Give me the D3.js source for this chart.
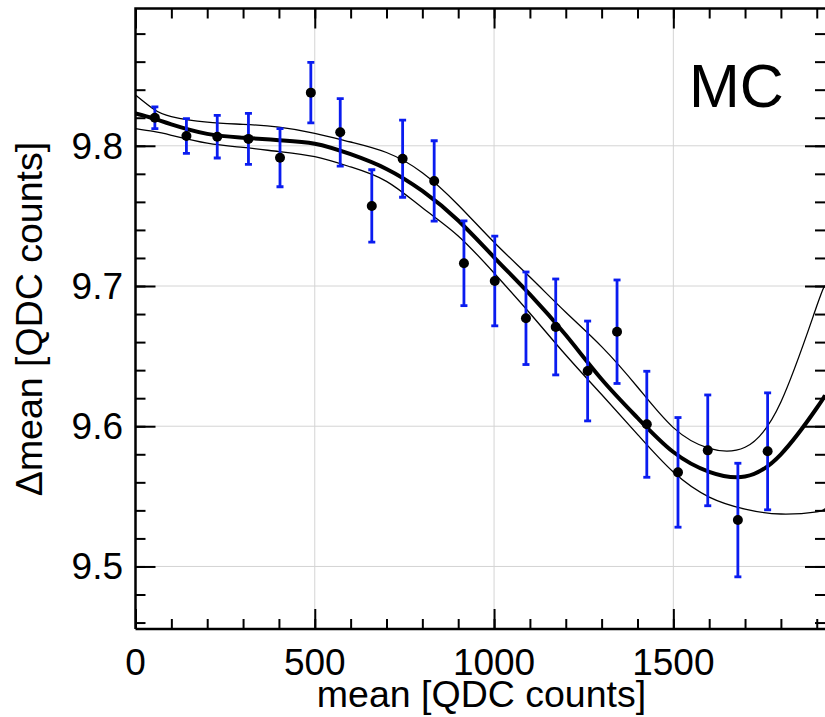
<!DOCTYPE html>
<html>
<head>
<style>
body { margin: 0; background: #fff; }
svg text { font-family: 'Liberation Sans', Arial, Helvetica, sans-serif; }
</style>
</head>
<body>
<svg id='chart'></svg>
<script src="https://cdn.jsdelivr.net/npm/d3@7"></script>
<script>
// measured points (bin centre, delta mean, error)
var ptX = [54, 142, 228, 315, 403, 489, 571, 659, 745, 833, 916, 1002, 1089, 1172, 1261, 1343, 1426, 1513, 1596, 1680, 1763];
var ptY = [9.8200, 9.8070, 9.8065, 9.8049, 9.7915, 9.8379, 9.8096, 9.7571, 9.7908, 9.7749, 9.7162, 9.7036, 9.6770, 9.6708, 9.6394, 9.6674, 9.6014, 9.5671, 9.5828, 9.5331, 9.5821];
var ptErr = [0.0077, 0.0124, 0.0152, 0.0182, 0.0207, 0.0216, 0.0241, 0.0258, 0.0275, 0.0287, 0.0302, 0.0320, 0.0330, 0.0342, 0.0356, 0.0369, 0.0378, 0.0391, 0.0395, 0.0405, 0.0417];

// fit curve and its band
var fitX     = [0, 50, 100, 200, 300, 400, 500, 600, 700, 800, 900, 1000, 1100, 1200, 1300, 1400, 1500, 1600, 1700, 1800, 1900, 1923];
var fitMid   = [9.8230, 9.8195, 9.8153, 9.8085, 9.8058, 9.8040, 9.8015, 9.7940, 9.7835, 9.7678, 9.7467, 9.7205, 9.6940, 9.6650, 9.6335, 9.6060, 9.5816, 9.5675, 9.5641, 9.5800, 9.6130, 9.6223];
var fitUpper = [9.8362, 9.8262, 9.8208, 9.8168, 9.8153, 9.8133, 9.8089, 9.8027, 9.7952, 9.7808, 9.7578, 9.7312, 9.7064, 9.6813, 9.6568, 9.6280, 9.5990, 9.5842, 9.5850, 9.6173, 9.6857, 9.6993];
var fitLower = [9.8122, 9.8102, 9.8075, 9.8019, 9.7988, 9.7959, 9.7922, 9.7849, 9.7746, 9.7558, 9.7357, 9.7093, 9.6806, 9.6508, 9.6226, 9.5942, 9.5673, 9.5495, 9.5409, 9.5374, 9.5390, 9.5413];

var xTickLabels = [0, 500, 1000, 1500];
var yTickLabels = [9.5, 9.6, 9.7, 9.8];

var W = 825, H = 717;
var pLeft = 135.5, pRight = 825, pTop = 8.5, pBottom = 629;

var svg = d3.select('#chart').attr('width', W).attr('height', H);

var x = d3.scaleLinear().domain([0, 1923]).range([pLeft, pRight]);
var y = d3.scaleLinear().domain([9.4554, 9.8979]).range([pBottom, pTop]);

svg.append('clipPath').attr('id', 'clip')
	.append('rect')
	.attr('x', pLeft).attr('y', pTop)
	.attr('width', pRight - pLeft).attr('height', pBottom - pTop);

// grid
var grid = svg.append('g').style('stroke', '#d4d4d4').style('stroke-width', 1);
grid.selectAll('.gx').data(xTickLabels.slice(1)).enter().append('line')
	.attr('x1', function(d){return x(d);}).attr('x2', function(d){return x(d);})
	.attr('y1', pTop).attr('y2', pBottom);
grid.selectAll('.gy').data(yTickLabels).enter().append('line')
	.attr('y1', function(d){return y(d);}).attr('y2', function(d){return y(d);})
	.attr('x1', pLeft).attr('x2', pRight);

// ticks on all four sides, pointing inward
var xMinor = d3.range(0, 1923, 100);
var yMinor = d3.range(9.46, 9.89, 0.02);

function tickStyle(g) {
	g.select('.domain').remove();
	g.selectAll('line').style('stroke', '#000').style('stroke-width', 2);
	g.selectAll('text').remove();
}

svg.append('g').attr('transform', 'translate(0,' + pBottom + ')')
	.call(d3.axisBottom(x).tickValues(xMinor).tickSize(-10)).call(tickStyle);
svg.append('g').attr('transform', 'translate(0,' + pBottom + ')')
	.call(d3.axisBottom(x).tickValues(xTickLabels).tickSize(-20)).call(tickStyle);
svg.append('g').attr('transform', 'translate(0,' + pTop + ')')
	.call(d3.axisTop(x).tickValues(xMinor).tickSize(-10)).call(tickStyle);
svg.append('g').attr('transform', 'translate(0,' + pTop + ')')
	.call(d3.axisTop(x).tickValues(xTickLabels).tickSize(-20)).call(tickStyle);
svg.append('g').attr('transform', 'translate(' + pLeft + ',0)')
	.call(d3.axisLeft(y).tickValues(yMinor).tickSize(-10)).call(tickStyle);
svg.append('g').attr('transform', 'translate(' + pLeft + ',0)')
	.call(d3.axisLeft(y).tickValues(yTickLabels).tickSize(-20)).call(tickStyle);
svg.append('g').attr('transform', 'translate(' + pRight + ',0)')
	.call(d3.axisRight(y).tickValues(yMinor).tickSize(-10)).call(tickStyle);
svg.append('g').attr('transform', 'translate(' + pRight + ',0)')
	.call(d3.axisRight(y).tickValues(yTickLabels).tickSize(-20)).call(tickStyle);

// frame
svg.append('path')
	.attr('d', 'M ' + pLeft + ' ' + pBottom + ' L ' + pLeft + ' ' + pTop + ' L ' + pRight + ' ' + pTop)
	.style('fill', 'none').style('stroke', '#000').style('stroke-width', 2.5);
svg.append('line')
	.attr('x1', pLeft).attr('x2', pRight).attr('y1', pBottom).attr('y2', pBottom)
	.style('stroke', '#000').style('stroke-width', 2.5);

// tick labels
svg.selectAll('.xl').data(xTickLabels).enter().append('text')
	.attr('x', function(d){return x(d);})
	.attr('y', 675)
	.attr('text-anchor', 'middle')
	.attr('font-size', 37)
	.text(function(d){return d;});
svg.selectAll('.yl').data(yTickLabels).enter().append('text')
	.attr('x', 123)
	.attr('y', function(d){return y(d) + 13;})
	.attr('text-anchor', 'end')
	.attr('font-size', 37)
	.text(function(d){return d.toFixed(1);});

// axis titles
svg.append('text')
	.attr('x', 481.5).attr('y', 706.5)
	.attr('text-anchor', 'middle')
	.attr('font-size', 37.5)
	.text('mean [QDC counts]');
svg.append('text')
	.attr('transform', 'translate(42,319) rotate(-90)')
	.attr('text-anchor', 'middle')
	.attr('font-size', 37.5)
	.text('\u0394mean [QDC counts]');

svg.append('text')
	.attr('x', 689).attr('y', 106.5)
	.attr('font-size', 61)
	.text('MC');

// fit lines
var plot = svg.append('g').attr('clip-path', 'url(#clip)');
function fitLine(vals) {
	return d3.line()
		.x(function(d, i){return x(fitX[i]);})
		.y(function(d){return y(d);})
		.curve(d3.curveNatural)(vals);
}
plot.append('path').attr('d', fitLine(fitUpper))
	.style('fill', 'none').style('stroke', '#000').style('stroke-width', 1.3);
plot.append('path').attr('d', fitLine(fitLower))
	.style('fill', 'none').style('stroke', '#000').style('stroke-width', 1.3);
plot.append('path').attr('d', fitLine(fitMid))
	.style('fill', 'none').style('stroke', '#000').style('stroke-width', 4);

// error bars
var pts = ptX.map(function(d, i){return {x: d, y: ptY[i], e: ptErr[i]};});
var eb = plot.append('g').style('stroke', '#0a1cf0').style('stroke-width', 2.8);
eb.selectAll('.v').data(pts).enter().append('line')
	.attr('x1', function(d){return x(d.x);}).attr('x2', function(d){return x(d.x);})
	.attr('y1', function(d){return y(d.y + d.e);}).attr('y2', function(d){return y(d.y - d.e);});
eb.selectAll('.ct').data(pts).enter().append('line')
	.attr('x1', function(d){return x(d.x) - 3.5;}).attr('x2', function(d){return x(d.x) + 3.5;})
	.attr('y1', function(d){return y(d.y + d.e);}).attr('y2', function(d){return y(d.y + d.e);});
eb.selectAll('.cb').data(pts).enter().append('line')
	.attr('x1', function(d){return x(d.x) - 3.5;}).attr('x2', function(d){return x(d.x) + 3.5;})
	.attr('y1', function(d){return y(d.y - d.e);}).attr('y2', function(d){return y(d.y - d.e);});

plot.selectAll('.pt').data(pts).enter().append('circle')
	.attr('cx', function(d){return x(d.x);})
	.attr('cy', function(d){return y(d.y);})
	.attr('r', 5)
	.style('fill', '#000');
</script>
</body>
</html>
